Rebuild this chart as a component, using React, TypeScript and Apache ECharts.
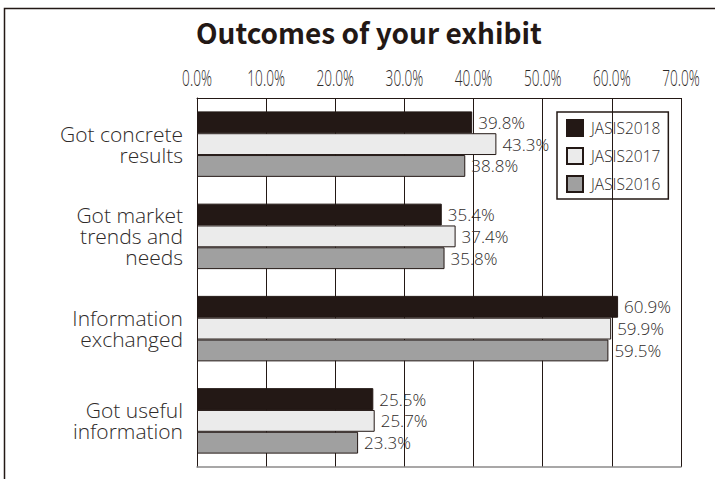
import React, { useEffect, useRef } from "react";
import * as echarts from "echarts";

const categories = [
  "Got concrete\nresults",
  "Got market\ntrends and\nneeds",
  "Information\nexchanged",
  "Got useful\ninformation",
];
const seriesNames = ["JASIS2018", "JASIS2017", "JASIS2016"];
const values2018 = [39.8, 35.4, 60.9, 25.5];
const values2017 = [43.3, 37.4, 59.9, 25.7];
const values2016 = [38.8, 35.8, 59.5, 23.3];
const seriesColors = ["#231815", "#ebebeb", "#a0a0a0"];
const tickValues = [0, 10, 20, 30, 40, 50, 60, 70];

const dark = "#231815";
const textColor = "#2e2a29";
const jp = '"Noto Sans CJK JP", "Noto Sans", sans-serif';
const lightFont = '"Open Sans", "Noto Sans", sans-serif';

export default function App() {
  const ref = useRef<HTMLDivElement>(null);
  useEffect(() => {
    if (!ref.current) return;
    const chart = echarts.init(ref.current, null, { renderer: "svg" });
    const allValues = [values2018, values2017, values2016];
    const gridTop = 98;
    chart.setOption({
      animation: false,
      backgroundColor: "#ffffff",
      title: {
        text: "Outcomes of your exhibit",
        left: 191,
        top: 13,
        textStyle: { fontFamily: jp, fontWeight: "bold", fontSize: 28, color: dark },
      },
      legend: {
        orient: "vertical",
        left: 557,
        top: 112,
        padding: [7, 8, 6, 9],
        itemWidth: 16,
        itemHeight: 16,
        itemGap: 10,
        borderColor: dark,
        borderWidth: 1.5,
        icon: "rect",
        data: seriesNames,
        textStyle: {
          fontFamily: lightFont,
          fontWeight: 300,
          fontSize: 15.5,
          lineHeight: 16,
          color: textColor,
          padding: [0, 0, 0, 3],
        },
      },
      grid: {
        left: 197,
        right: 34,
        top: gridTop,
        bottom: 12,
        show: false,
        containLabel: false,
      },
      xAxis: [
        {
          type: "value",
          position: "top",
          min: 0,
          max: 70,
          interval: 10,
          axisLine: { show: true, lineStyle: { color: dark, width: 1 } },
          axisTick: { show: false },
          splitLine: { show: true, lineStyle: { color: dark, width: 1 } },
          axisLabel: { show: false },
        },
        {
          type: "value",
          position: "bottom",
          min: 0,
          max: 70,
          interval: 10,
          axisLine: { show: true, lineStyle: { color: "#8c8a8a", width: 1.5 } },
          axisTick: { show: false },
          splitLine: { show: false },
          axisLabel: { show: false },
        },
      ],
      yAxis: {
        type: "category",
        inverse: true,
        data: categories,
        axisLine: { show: true, lineStyle: { color: dark, width: 1 } },
        axisTick: { show: false },
        axisLabel: {
          margin: 14,
          fontFamily: lightFont,
          fontWeight: 300,
          fontSize: 21,
          lineHeight: 21,
          color: textColor,
          align: "right",
        },
      },
      series: seriesNames.map((name, i) => ({
        name,
        type: "bar",
        data: allValues[i],
        barGap: "0%",
        barCategoryGap: "29%",
        itemStyle: { color: seriesColors[i], borderColor: dark, borderWidth: 1 },
        label: {
          show: true,
          position: "right",
          distance: 6,
          formatter: (p: any) => p.value.toFixed(1) + "%",
          fontFamily: lightFont,
          fontWeight: 300,
          fontSize: 17,
          color: textColor,
        },
      })),
    });

    const tickTexts = tickValues.map((v) => {
      const x = chart.convertToPixel({ xAxisIndex: 0 }, v) as number;
      return {
        type: "text",
        x,
        y: gridTop - 21,
        scaleX: 0.62,
        silent: true,
        style: {
          text: v.toFixed(1) + "%",
          fontFamily: lightFont,
          fontWeight: 300,
          fontSize: 22,
          fill: textColor,
          align: "center",
          verticalAlign: "middle",
        },
      };
    });
    chart.setOption({
      graphic: [
        {
          type: "rect",
          shape: { x: 4.5, y: 8.5, width: 800, height: 600 },
          style: { fill: "none", stroke: dark, lineWidth: 1.5 },
          silent: true,
        },
        ...tickTexts,
      ],
    });
    return () => chart.dispose();
  }, []);
  return (
    <div
      ref={ref}
      style={{ position: "fixed", left: 0, top: 0, width: 715, height: 479 }}
    />
  );
}
